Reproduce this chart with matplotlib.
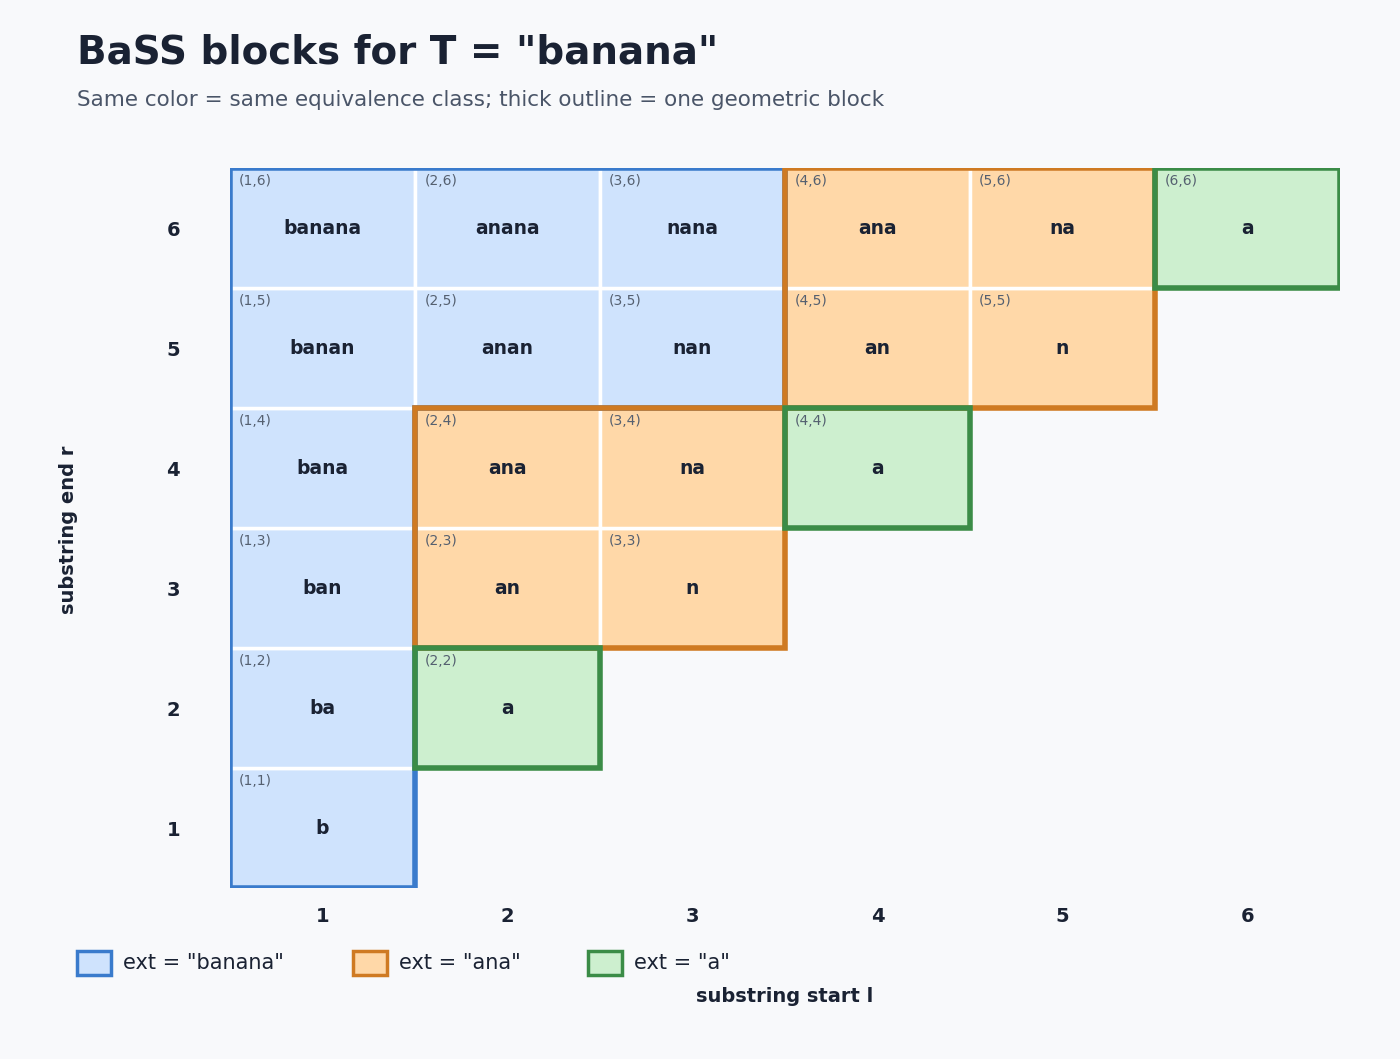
import matplotlib.pyplot as plt
from matplotlib.patches import Rectangle, Polygon

T = "banana"
n = len(T)
# equivalence class per cell (l, r)
blue_cells = [(1, r) for r in range(1, 7)] + [(2, 5), (2, 6), (3, 5), (3, 6)]
orange_cells = [(2, 3), (2, 4), (3, 3), (3, 4), (4, 5), (4, 6), (5, 5), (5, 6)]
green_cells = [(2, 2), (4, 4), (6, 6)]
legend_labels = ['ext = "banana"', 'ext = "ana"', 'ext = "a"']

fills = ['#cfe3fd', '#ffd8a8', '#cdefcf']
edges = ['#3a7bcc', '#cf7a22', '#3b8c47']

bg = '#f8f9fb'
fig = plt.figure(figsize=(14, 10.59), dpi=100, facecolor=bg)
ax = fig.add_axes([230 / 1400, 1 - 888 / 1059, 1110 / 1400, 720 / 1059])
ax.set_facecolor(bg)
ax.set_xlim(0.5, 6.5)
ax.set_ylim(0.5, 6.5)
for s in ax.spines.values():
    s.set_visible(False)

for k, cells in enumerate([blue_cells, orange_cells, green_cells]):
    for (l, r) in cells:
        ax.add_patch(Rectangle((l - 0.5, r - 0.5), 1, 1, facecolor=fills[k],
                               edgecolor='white', lw=2.5, zorder=1))
        ax.text(l - 0.45, r + 0.45, f"({l},{r})", fontsize=10, color='#556070',
                ha='left', va='top', zorder=3)
        ax.text(l, r, T[l - 1:r], fontsize=13.5, fontweight='bold', color='#1a2233',
                ha='center', va='center', zorder=3)

# geometric blocks
lw = 4
ax.add_patch(Polygon([(0.5, 0.5), (1.5, 0.5), (1.5, 4.5), (3.5, 4.5), (3.5, 6.5), (0.5, 6.5)],
                     closed=True, fill=False, edgecolor=edges[0], lw=lw, zorder=4))
for (x0, y0, w, h) in [(1.5, 2.5, 2, 2), (3.5, 4.5, 2, 2)]:
    ax.add_patch(Rectangle((x0, y0), w, h, fill=False, edgecolor=edges[1], lw=lw, zorder=4))
for (l, r) in green_cells:
    ax.add_patch(Rectangle((l - 0.5, r - 0.5), 1, 1, fill=False, edgecolor=edges[2], lw=lw, zorder=4))

ax.set_xticks(range(1, 7))
ax.set_yticks(range(1, 7))
ax.tick_params(length=0, labelsize=14, colors='#1a2233', pad=14)
ax.tick_params(axis='y', pad=36)
for t in ax.get_xticklabels() + ax.get_yticklabels():
    t.set_fontweight('bold')

fig.text(68 / 1400, 1 - 530 / 1059, 'substring end r', rotation=90, ha='center', va='center',
         fontsize=14, fontweight='bold', color='#1a2233')
fig.text(785 / 1400, 1 - 997 / 1059, 'substring start l', ha='center', va='center',
         fontsize=14, fontweight='bold', color='#1a2233')

fig.text(77 / 1400, 1 - 52 / 1059, 'BaSS blocks for T = "banana"', fontsize=28,
         fontweight='bold', color='#1a2233', ha='left', va='center')
fig.text(77 / 1400, 1 - 100 / 1059,
         'Same color = same equivalence class; thick outline = one geometric block',
         fontsize=15.5, color='#4a5568', ha='left', va='center')

# legend
for k, x in enumerate([77, 353, 588]):
    fig.patches.append(Rectangle((x / 1400, 1 - 975 / 1059), 34 / 1400, 24 / 1059,
                                 transform=fig.transFigure, facecolor=fills[k],
                                 edgecolor=edges[k], lw=2.5))
    fig.text((x + 46) / 1400, 1 - 963 / 1059, legend_labels[k], fontsize=15,
             color='#1a2233', ha='left', va='center')

fig.savefig('out.png', dpi=100, facecolor=bg)
